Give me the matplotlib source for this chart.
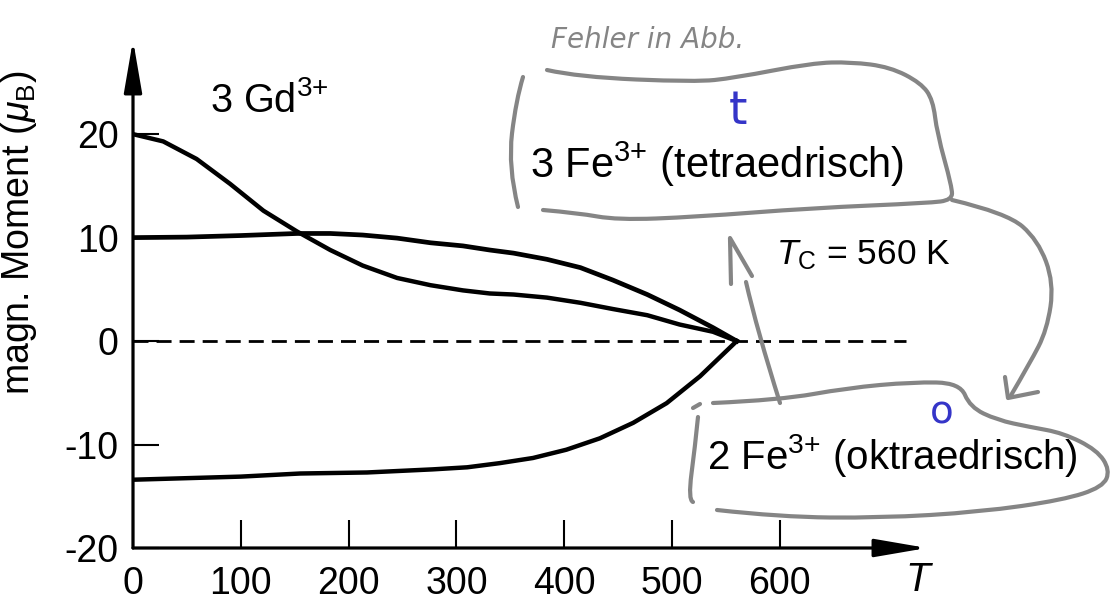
import matplotlib
matplotlib.use('Agg')
import numpy as np
from matplotlib import pyplot as plt
from matplotlib.path import Path
from matplotlib.patches import PathPatch

plt.rcParams['font.family'] = ['Liberation Sans', 'DejaVu Sans']
plt.rcParams['axes.unicode_minus'] = False
plt.rcParams['mathtext.fontset'] = 'custom'
plt.rcParams['mathtext.rm'] = 'Liberation Sans'
plt.rcParams['mathtext.it'] = 'Liberation Sans:italic'

# data
T_gd = [0, 28, 59, 90, 121, 152, 183, 213, 245, 276, 306, 331, 353, 384, 415, 445, 477, 507, 538, 560]
M_gd = [20, 19.3, 17.6, 15.2, 12.6, 10.6, 8.8, 7.3, 6.1, 5.4, 4.9, 4.6, 4.5, 4.2, 3.7, 3.1, 2.5, 1.6, 0.9, 0]
T_tet = [0, 50, 100, 152, 183, 213, 245, 276, 306, 331, 353, 384, 415, 445, 477, 507, 538, 560]
M_tet = [10.0, 10.05, 10.2, 10.4, 10.4, 10.25, 9.95, 9.5, 9.2, 8.8, 8.5, 7.9, 7.1, 5.9, 4.5, 3.0, 1.3, 0]
T_okt = [0, 100, 155, 217, 278, 310, 340, 371, 402, 433, 464, 495, 526, 545, 560]
M_okt = [-13.4, -13.1, -12.8, -12.7, -12.4, -12.2, -11.8, -11.3, -10.5, -9.4, -7.9, -6.0, -3.4, -1.5, 0]
x_ticks = [0, 100, 200, 300, 400, 500, 600]
y_ticks = [-20, -10, 0, 10, 20]

W, H = 1110, 609
fig = plt.figure(figsize=(W / 100, H / 100), dpi=100)
ax = fig.add_axes([133 / W, (H - 548) / H, (927 - 133) / W, (548 - 40) / H])
ax.set_xlim(0, 736.5)
ax.set_ylim(-20, 29.1)

for s in ['top', 'right', 'left', 'bottom']:
    ax.spines[s].set_visible(False)

# axes drawn as arrows
arw = dict(arrowstyle='-|>,head_length=3.2,head_width=0.55', lw=2.3, color='k',
           mutation_scale=10, shrinkA=0, shrinkB=0)
ax.annotate('', xy=(736.5, -20), xytext=(0, -20), arrowprops=arw, annotation_clip=False)
ax.annotate('', xy=(0, 29.1), xytext=(0, -20), arrowprops=arw, annotation_clip=False)

ax.set_xticks(x_ticks)
ax.set_yticks(y_ticks)
ax.tick_params(axis='x', direction='in', length=20, width=1.5, pad=13, labelsize=27)
ax.tick_params(axis='y', direction='in', length=19, width=1.5, pad=10.5, labelsize=27)

ax.axhline(0, xmin=0, xmax=717 / 736.5, color='k', lw=2, ls=(0, (5.4, 2.9)))
ax.plot(T_gd, M_gd, color='k', lw=3.2, solid_joinstyle='round')
ax.plot(T_tet, M_tet, color='k', lw=3.4, solid_joinstyle='round')
ax.plot(T_okt, M_okt, color='k', lw=3.2, solid_joinstyle='round')

ax.set_ylabel(r'magn. Moment ($\mathit{\mu}_\mathrm{B}$)', fontsize=27)
ax.yaxis.set_label_coords(-0.118, 0.62)

ax.text(71, 23.3, r'3 Gd$^{3{+}}$', fontsize=28.5, va='center', ha='left')
ax.text(368, 17.1, r'3 Fe$^{3{+}}$ (tetraedrisch)', fontsize=30, va='center', ha='left')
ax.text(596, 8.3, r'$\mathit{T}_\mathrm{C}$ = 560 K', fontsize=25.5, va='center', ha='left')
ax.text(532, -11.1, r'2 Fe$^{3{+}}$ (oktraedrisch)', fontsize=29, va='center', ha='left')
ax.text(728, -23.1, 'T', fontsize=29, style='italic', va='center', ha='center', clip_on=False)

# hand-drawn notes on top of the figure (pixel coords of the picture)
gray = '#858585'

def stroke(pts, smooth=True):
    # pen stroke through the given pixel points
    a = np.array(pts, float)
    a[:, 0] = a[:, 0] / W
    a[:, 1] = 1 - a[:, 1] / H
    if not smooth or len(a) < 3:
        verts, codes = list(a), [Path.MOVETO] + [Path.LINETO] * (len(a) - 1)
    else:
        verts, codes = [a[0]], [Path.MOVETO]
        for i in range(1, len(a) - 1):
            m = (a[i] + a[i + 1]) / 2 if i < len(a) - 2 else a[i + 1]
            verts += [a[i], m]
            codes += [Path.CURVE3, Path.CURVE3]
    fig.add_artist(PathPatch(Path(verts, codes), transform=fig.transFigure, fill=False,
                             edgecolor=gray, lw=3, capstyle='round', joinstyle='round'))

notes = [
    [(547, 70), (578, 77), (695, 82), (734, 78), (812, 63), (851, 62), (890, 67), (921, 83), (933, 100),
     (937, 133), (952, 187), (952, 200), (929, 203), (812, 208), (695, 217), (617, 220), (578, 213), (543, 210)],
    [(523, 77), (516, 100), (508, 167), (518, 207)],
    [(952, 200), (1007, 213), (1038, 240), (1054, 283), (1047, 330), (1030, 363), (1010, 397)],
    [(780, 403), (757, 330), (746, 282)],
    [(713, 403), (780, 400), (847, 388), (913, 382), (960, 383), (970, 407), (997, 420), (1030, 427),
     (1063, 433), (1097, 450), (1110, 470), (1103, 487), (1063, 500), (980, 512), (880, 518), (780, 517), (717, 510)],
    [(698, 417), (695, 447), (688, 500), (693, 502)],
]
heads = [
    [(1005, 377), (1008, 398), (1038, 392)],
    [(731, 284), (730, 238), (752, 276)],
    [(693, 408), (700, 404)],
]
for p in notes:
    stroke(p)
for p in heads:
    stroke(p, smooth=False)

fig.text(551 / W, 1 - 40 / H, 'Fehler in Abb.', color=gray, fontsize=20, family='DejaVu Sans',
         style='italic', va='center', ha='left')
fig.text(738 / W, 1 - 112 / H, 't', color='#3535c8', fontsize=34, family='DejaVu Sans', va='center', ha='center')
fig.text(942 / W, 1 - 412 / H, 'o', color='#3535c8', fontsize=28, family='DejaVu Sans', va='center', ha='center')

plt.savefig('out.png', dpi=100)
